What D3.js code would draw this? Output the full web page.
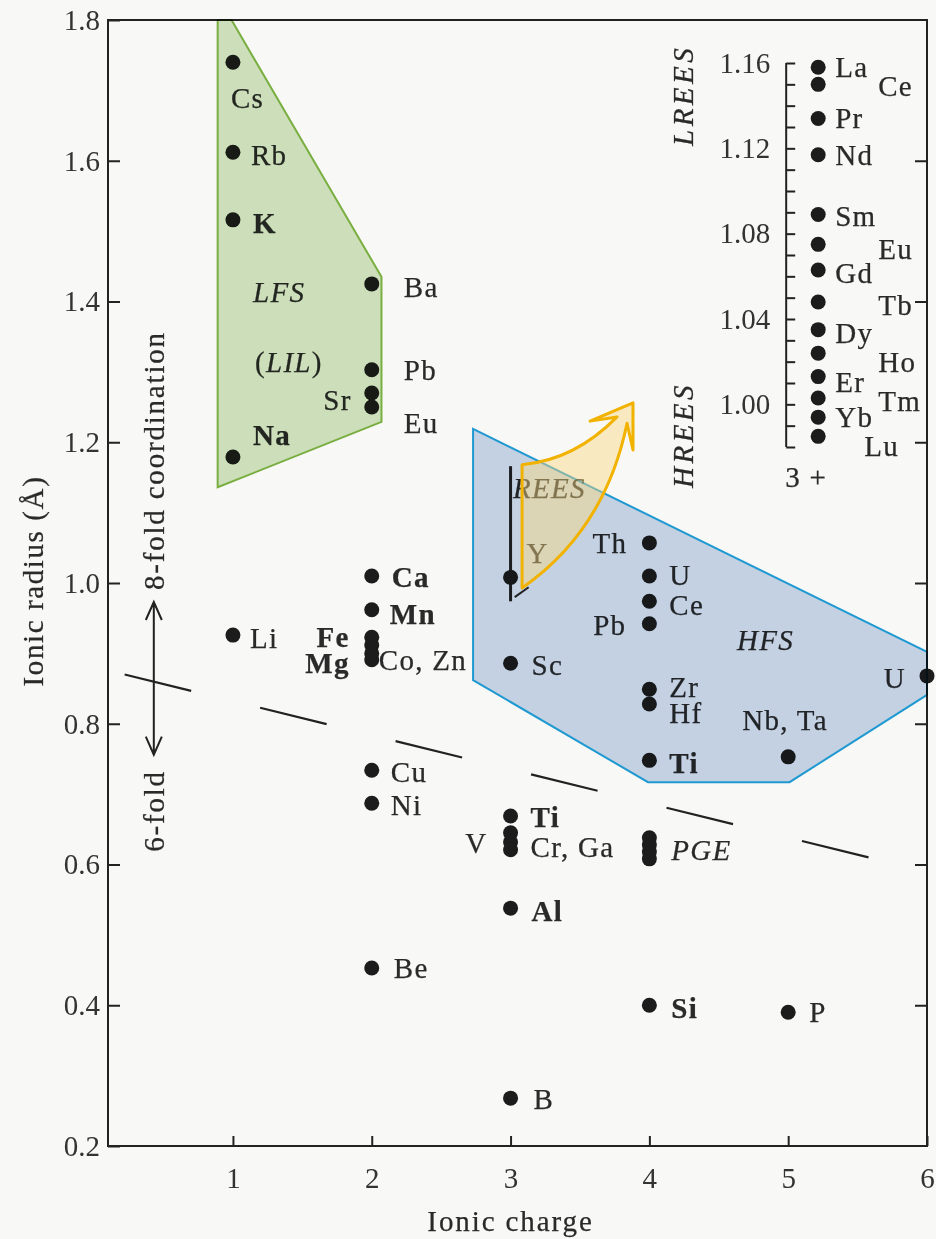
<!DOCTYPE html>
<html>
<head>
<meta charset="utf-8">
<script src="https://cdn.jsdelivr.net/npm/d3@7"></script>
<style>
  body { margin: 0; background: #f8f8f6; }
  svg { display: block; font-family: "Liberation Serif", "Times New Roman", serif; }
  .axis text { font-size: 29px; fill: #333; font-family: "Liberation Serif", serif; }
  .axis path, .axis line { stroke: #222; stroke-width: 2; }
  .lbl { font-size: 29px; fill: #2a2a2a; letter-spacing: 1.3px; stroke: #2a2a2a; stroke-width: 0.25px; }
  .b { font-weight: bold; }
  .i { font-style: italic; }
  .field { mix-blend-mode: multiply; }
</style>
</head>
<body>
<div id="chart"></div>
<script>
var width = 936;
var height = 1239;

// ions: charge and radius (Å)
var ionNames  = ["Cs","Rb","K","Na","Li",
                 "Ba","Pb","Sr","Eu","Ca","Mn","Fe","Co","Zn","Mg","Cu","Ni","Be",
                 "Y","Sc","Ti","V","Cr","Ga","Al","B",
                 "Th","U","Ce","Pb","Zr","Hf","Ti","PGE","PGE","PGE","PGE","Si",
                 "Nb, Ta","P","U"];
var ionCharge = [1,1,1,1,1,
                 2,2,2,2,2,2,2,2,2,2,2,2,2,
                 3,3,3,3,3,3,3,3,
                 4,4,4,4,4,4,4,4,4,4,4,4,
                 5,5,6];
var ionRadius = [1.740,1.612,1.516,1.179,0.926,
                 1.425,1.303,1.270,1.250,1.010,0.962,0.923,0.912,0.900,0.891,0.734,0.687,0.453,
                 1.008,0.886,0.669,0.645,0.632,0.621,0.538,0.268,
                 1.057,1.010,0.974,0.942,0.849,0.828,0.748,0.638,0.628,0.618,0.608,0.400,
                 0.753,0.390,0.868];

// rare earth inset (3+)
var reeNames  = ["La","Ce","Pr","Nd","Sm","Eu","Gd","Tb","Dy","Ho","Er","Tm","Yb","Lu"];
var reeRadius = [1.158,1.150,1.134,1.117,1.089,1.075,1.063,1.048,1.035,1.024,1.013,1.003,0.994,0.985];
var reeTicks  = [1.00,1.04,1.08,1.12,1.16];

var xTicks = [1,2,3,4,5,6];
var yTicks = [0.2,0.4,0.6,0.8,1.0,1.2,1.4,1.6,1.8];

// field outlines, in charge / radius units
var lfsField = [[0.89,1.8],[0.99,1.8],[2.07,1.435],[2.07,1.229],[0.89,1.136]];
var hfsField = [[2.73,1.219],[6.0,0.902],[6.0,0.841],[5.01,0.717],[3.99,0.717],[2.73,0.862]];

// label placement for each ion: [dx, dy, anchor, class] (null = no label)
var ionLabel = [
  [-2,46,"start",""],[18,13,"start",""],[20,13,"start","b"],[20,-12,"start","b"],[17,13,"start",""],
  [32,13,"start",""],[32,10,"start",""],[-20,17,"end",""],[32,26,"start",""],[20,11,"start","b"],
  [18,14,"start","b"],[-22,10,"end","b"],null,[7,17,"start",""],[-22,13,"end","b"],
  [19,12,"start",""],[19,12,"start",""],[22,10,"start",""],
  [16,-14,"start",""],[21,12,"start",""],[20,11,"start","b"],[-23,20,"end",""],null,[20,7,"start",""],
  [21,13,"start","b"],[23,11,"start",""],
  [-22,10,"end",""],[20,9,"start",""],[20,14,"start",""],[-23,11,"end",""],[20,8,"start",""],
  [20,19,"start",""],[20,13,"start","b"],null,null,null,[22,1,"start","i"],[22,13,"start","b"],
  [-46,-27,"start",""],[21,10,"start",""],[-21,12,"end",""]
];
var labelText = {23: "Cr, Ga", 13: "Co, Zn"};

var reeDx = [17,60,17,17,17,60,17,60,17,60,17,60,17,46];
var reeDy = [10,12,10,10,12,15,13,13,13,19,15,13,10,20];

var svg = d3.select("#chart").append("svg").attr("width", width).attr("height", height);

svg.append("rect").attr("width", width).attr("height", height).attr("fill", "#f8f8f6");

var x = d3.scaleLinear().domain([0.1, 6]).range([108, 927]);
var y = d3.scaleLinear().domain([0.2, 1.8]).range([1146, 20]);

// frame
svg.append("rect")
  .attr("x", x(0.1)).attr("y", y(1.8))
  .attr("width", x(6) - x(0.1)).attr("height", y(0.2) - y(1.8))
  .attr("fill", "none").attr("stroke", "#222").attr("stroke-width", 2);

var yAxis = d3.axisLeft(y).tickValues(yTicks).tickSize(-12).tickSizeOuter(0).tickPadding(8).tickFormat(d3.format(".1f"));
svg.append("g").attr("class", "axis").attr("transform", "translate(" + x(0.1) + ",0)").call(yAxis);

var yAxisR = d3.axisRight(y).tickValues(yTicks.slice(1, -1)).tickSize(-12).tickSizeOuter(0).tickFormat("");
svg.append("g").attr("class", "axis").attr("transform", "translate(" + x(6) + ",0)").call(yAxisR);

var xAxis = d3.axisBottom(x).tickValues(xTicks).tickSize(-10).tickSizeOuter(0).tickPadding(21).tickFormat(d3.format("d"));
svg.append("g").attr("class", "axis").attr("transform", "translate(0," + y(0.2) + ")").call(xAxis);

svg.selectAll(".axis .domain").remove();

// axis titles
svg.append("text").attr("class", "lbl")
  .attr("transform", "translate(43," + (y(1.0) - 2) + ")rotate(-90)")
  .attr("text-anchor", "middle").style("letter-spacing", "1.6px")
  .text("Ionic radius (Å)");

svg.append("text").attr("class", "lbl")
  .attr("x", x(3)).attr("y", 1231)
  .attr("text-anchor", "middle").style("letter-spacing", "1.9px")
  .text("Ionic charge");

// coordination boundary
svg.append("line")
  .attr("x1", x(0.22)).attr("y1", y(0.87))
  .attr("x2", x(5.58)).attr("y2", y(0.61))
  .attr("stroke", "#222").attr("stroke-width", 2.2)
  .attr("stroke-dasharray", "68.5,71");

var ax = x(0.43);
var a1 = y(0.973);
var a2 = y(0.756);
svg.append("path")
  .attr("d", "M" + ax + "," + a1 + "V" + a2 +
    "M" + (ax - 8) + "," + (a1 + 18) + "L" + ax + "," + a1 + "L" + (ax + 8) + "," + (a1 + 18) +
    "M" + (ax - 8) + "," + (a2 - 18) + "L" + ax + "," + a2 + "L" + (ax + 8) + "," + (a2 - 18))
  .attr("fill", "none").attr("stroke", "#222").attr("stroke-width", 2);

svg.append("text").attr("class", "lbl")
  .attr("transform", "translate(" + x(0.503) + "," + y(0.99) + ")rotate(-90)")
  .style("letter-spacing", "1.8px")
  .text("8-fold coordination");

svg.append("text").attr("class", "lbl")
  .attr("transform", "translate(" + x(0.503) + "," + y(0.618) + ")rotate(-90)")
  .style("letter-spacing", "1.8px")
  .text("6-fold");

// REE range bar through Y
svg.append("line")
  .attr("x1", x(3)).attr("y1", y(1.166))
  .attr("x2", x(3)).attr("y2", y(0.974))
  .attr("stroke", "#222").attr("stroke-width", 3);

// ions
var idx = d3.range(ionNames.length);

svg.selectAll("circle.ion").data(idx).enter()
  .append("circle")
  .attr("class", "ion")
  .attr("cx", function(i) { return x(ionCharge[i]); })
  .attr("cy", function(i) { return y(ionRadius[i]); })
  .attr("r", 7.5)
  .attr("fill", "#1c1c1c");

svg.selectAll("text.ionText").data(idx.filter(function(i) { return ionLabel[i]; })).enter()
  .append("text")
  .attr("class", function(i) { return "ionText lbl " + ionLabel[i][3]; })
  .attr("x", function(i) { return x(ionCharge[i]) + ionLabel[i][0]; })
  .attr("y", function(i) { return y(ionRadius[i]) + ionLabel[i][1]; })
  .attr("text-anchor", function(i) { return ionLabel[i][2]; })
  .text(function(i) { return labelText[i] || ionNames[i]; });

// field names
svg.append("text").attr("class", "lbl i").attr("x", x(1.145)).attr("y", y(1.399)).text("LFS");
var lil = svg.append("text").attr("class", "lbl").attr("x", x(1.159)).attr("y", y(1.30));
lil.append("tspan").text("(");
lil.append("tspan").attr("class", "i").text("LIL");
lil.append("tspan").text(")");
svg.append("text").attr("class", "lbl i").attr("x", x(4.632)).attr("y", y(0.905)).text("HFS");
svg.append("text").attr("class", "lbl i").attr("x", x(3.018)).attr("y", y(1.121)).text("REES");

// REE inset
var insetX = x(5) - 2;
var yIn = d3.scaleLinear().domain([0.98, 1.16]).range([447, 63]);

var inAxis = d3.axisLeft(yIn)
  .tickValues(d3.range(98, 117).map(function(d) { return d / 100; }))
  .tickSize(-9).tickSizeOuter(0).tickPadding(16)
  .tickFormat(function(d) {
    return reeTicks.some(function(t) { return Math.abs(t - d) < 1e-6; }) ? d3.format(".2f")(d) : "";
  });
var inG = svg.append("g").attr("class", "axis").attr("transform", "translate(" + insetX + ",0)").call(inAxis);
inG.select(".domain").attr("d", "M0," + yIn(1.16) + "V" + yIn(0.98)).attr("fill", "none");

svg.selectAll("circle.ree").data(reeNames).enter()
  .append("circle")
  .attr("class", "ree")
  .attr("cx", insetX + 32)
  .attr("cy", function(d, i) { return yIn(reeRadius[i]); })
  .attr("r", 7.5)
  .attr("fill", "#1c1c1c");

svg.selectAll("text.reeText").data(reeNames).enter()
  .append("text")
  .attr("class", "reeText lbl")
  .attr("x", function(d, i) { return insetX + 32 + reeDx[i]; })
  .attr("y", function(d, i) { return yIn(reeRadius[i]) + reeDy[i]; })
  .text(function(d) { return d; });

svg.append("text").attr("class", "lbl")
  .attr("x", insetX + 20).attr("y", 487).attr("text-anchor", "middle")
  .text("3 +");

svg.append("text").attr("class", "lbl i")
  .attr("transform", "translate(" + (insetX - 93) + ",146)rotate(-90)")
  .style("letter-spacing", "3.5px").text("LREES");
svg.append("text").attr("class", "lbl i")
  .attr("transform", "translate(" + (insetX - 93) + ",488)rotate(-90)")
  .style("letter-spacing", "3.5px").text("HREES");

// shaded fields on top
var fieldLine = d3.line().x(function(d) { return x(d[0]); }).y(function(d) { return y(d[1]); });

svg.append("path")
  .attr("class", "field")
  .attr("d", fieldLine(lfsField) + "Z")
  .attr("fill", "#d3e6c1")
  .attr("stroke", "#7cb342").attr("stroke-width", 2);

svg.append("path")
  .attr("class", "field")
  .attr("d", fieldLine(hfsField) + "Z")
  .attr("fill", "#c9d7eb")
  .attr("stroke", "#1f9dd9").attr("stroke-width", 2);

// yellow REE arrow
var p = d3.path();
p.moveTo(x(3.083), y(0.993));
p.lineTo(x(3.083), y(1.168));
p.quadraticCurveTo(x(3.465), y(1.175), x(3.767), y(1.236));
p.lineTo(x(3.573), y(1.230));
p.lineTo(x(3.882), y(1.256));
p.lineTo(x(3.882), y(1.189));
p.lineTo(x(3.839), y(1.227));
p.quadraticCurveTo(x(3.681), y(1.075), x(3.083), y(0.993));
p.closePath();

svg.append("line")
  .attr("x1", x(3.03)).attr("y1", y(0.98))
  .attr("x2", x(3.13)).attr("y2", y(0.994))
  .attr("stroke", "#222").attr("stroke-width", 2);

svg.append("path")
  .attr("d", p.toString())
  .attr("fill", "#f9d77e").attr("fill-opacity", 0.45)
  .attr("stroke", "#f2b200").attr("stroke-width", 3)
  .attr("stroke-linejoin", "round");
</script>
</body>
</html>
